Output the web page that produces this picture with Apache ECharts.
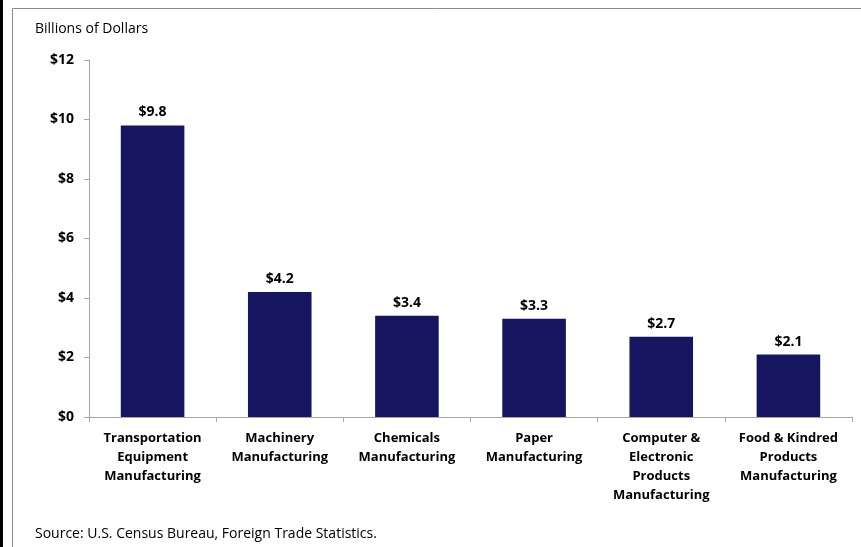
<!DOCTYPE html>
<html>
<head>
<meta charset="utf-8">
<script src="https://cdn.jsdelivr.net/npm/echarts@6/dist/echarts.min.js"></script>
<style>
  html, body { margin: 0; padding: 0; background: #fff; }
  #chart { width: 861px; height: 547px; }
</style>
</head>
<body>
<div id="chart"></div>
<script>
// Export value by industry, billions of dollars
const categories = [
  'Transportation\nEquipment\nManufacturing',
  'Machinery\nManufacturing',
  'Chemicals\nManufacturing',
  'Paper\nManufacturing',
  'Computer &\nElectronic\nProducts\nManufacturing',
  'Food & Kindred\nProducts\nManufacturing'
];
const values = [9.8, 4.2, 3.4, 3.3, 2.7, 2.1];
const yTicks = [0, 2, 4, 6, 8, 10, 12];

const FONT = '"Open Sans", Lato, sans-serif';
const chart = echarts.init(document.getElementById('chart'), null, { renderer: 'canvas' });

chart.setOption({
  animation: false,
  backgroundColor: '#ffffff',
  grid: { left: 89, right: 9, top: 60, bottom: 130, containLabel: false },
  graphic: [
    // page frame
    { type: 'rect', shape: { x: 0, y: 0, width: 3, height: 547 }, style: { fill: '#000' }, silent: true },
    { type: 'line', shape: { x1: 12.5, y1: 8.5, x2: 861, y2: 8.5 }, style: { stroke: '#8c8c8c', lineWidth: 1 }, silent: true },
    { type: 'line', shape: { x1: 12.5, y1: 8.5, x2: 12.5, y2: 547 }, style: { stroke: '#8c8c8c', lineWidth: 1 }, silent: true },
    { type: 'text', left: 35, top: 22, style: { text: 'Billions of Dollars', font: '14px ' + FONT, fill: '#000' } },
    { type: 'text', left: 35, top: 527, style: { text: 'Source: U.S. Census Bureau, Foreign Trade Statistics.', font: '14px ' + FONT, fill: '#000' } }
  ],
  xAxis: {
    type: 'category',
    data: categories,
    axisLine: { lineStyle: { color: '#a6a6a6', width: 1 } },
    axisTick: { show: true, length: 5, lineStyle: { color: '#a6a6a6' }, alignWithLabel: false },
    axisLabel: {
      interval: 0,
      margin: 12,
      fontFamily: FONT,
      fontWeight: 'bold',
      fontSize: 13,
      lineHeight: 19,
      color: '#000'
    },
    splitLine: { show: false }
  },
  yAxis: {
    type: 'value',
    min: yTicks[0],
    max: yTicks[yTicks.length - 1],
    interval: 2,
    axisLine: { show: true, lineStyle: { color: '#a6a6a6', width: 1 } },
    axisTick: { show: true, length: 5, lineStyle: { color: '#a6a6a6' } },
    splitLine: { show: false },
    axisLabel: {
      margin: 15,
      fontFamily: FONT,
      fontWeight: 'bold',
      fontSize: 14,
      color: '#000',
      formatter: v => '$' + v
    }
  },
  series: [{
    type: 'bar',
    data: values,
    barWidth: '50%',
    itemStyle: { color: '#161660' },
    label: {
      show: true,
      position: 'top',
      distance: 6,
      fontFamily: FONT,
      fontWeight: 'bold',
      fontSize: 14,
      color: '#000',
      formatter: p => '$' + p.value.toFixed(1)
    }
  }]
});
</script>
</body>
</html>
